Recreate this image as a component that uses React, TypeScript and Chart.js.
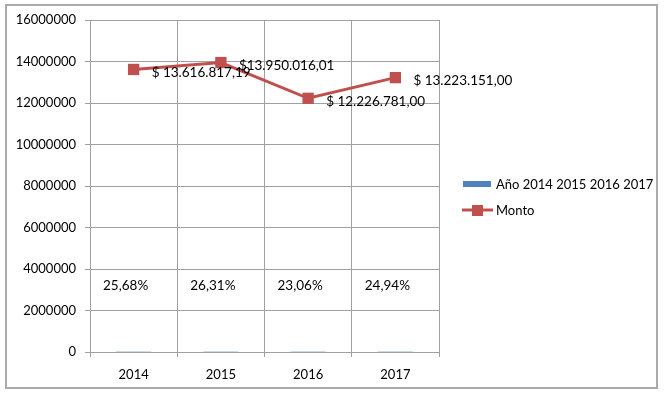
import React, { useEffect, useRef } from "react";
import { Chart, registerables } from "chart.js";

Chart.register(...registerables);

const categories = ["2014", "2015", "2016", "2017"];
const pctValues = [0.2568, 0.2631, 0.2306, 0.2494];
const pctLabels = ["25,68%", "26,31%", "23,06%", "24,94%"];
const montoValues = [13616817.19, 13950016.01, 12226781.0, 13223151.0];
const montoLabels = ["$ 13.616.817,19", "$13.950.016,01", "$ 12.226.781,00", "$ 13.223.151,00"];
const yTicks = [0, 2000000, 4000000, 6000000, 8000000, 10000000, 12000000, 14000000, 16000000];
const barName = "Año 2014 2015 2016 2017";
const lineName = "Monto";

const FONT = "Lato";
const BLUE = "#4F81BD";
const RED = "#C0504D";
const GRID = "#A0A0A0";

const decorPlugin = {
  id: "decor",
  beforeDraw(chart: any) {
    const ctx = chart.ctx;
    ctx.save();
    ctx.fillStyle = "#fff";
    ctx.fillRect(0, 0, chart.width, chart.height);
    ctx.strokeStyle = "#ABABAB";
    ctx.lineWidth = 2;
    ctx.strokeRect(6, 5, 651, 383);
    ctx.restore();
  },
  afterDatasetsDraw(chart: any) {
    const ctx = chart.ctx;
    const y = chart.scales.y;
    ctx.save();
    ctx.font = `13.5px ${FONT}`;
    ctx.fillStyle = "#000";
    ctx.textBaseline = "middle";
    const barMeta = chart.getDatasetMeta(0);
    ctx.textAlign = "center";
    barMeta.data.forEach((el: any, i: number) => {
      ctx.fillText(pctLabels[i], el.x - 8, y.getPixelForValue(3200000));
    });
    const lineMeta = chart.getDatasetMeta(1);
    ctx.textAlign = "left";
    lineMeta.data.forEach((el: any, i: number) => {
      ctx.fillText(montoLabels[i], el.x + 18, el.y + 3);
    });
    ctx.font = `13px ${FONT}`;
    const lx = 462;
    ctx.fillStyle = BLUE;
    ctx.fillRect(lx + 1, 181, 28, 6);
    ctx.fillStyle = "#000";
    ctx.fillText(barName, lx + 34, 185);
    ctx.strokeStyle = RED;
    ctx.lineWidth = 3;
    ctx.beginPath();
    ctx.moveTo(lx, 210);
    ctx.lineTo(lx + 31, 210);
    ctx.stroke();
    ctx.fillStyle = RED;
    ctx.fillRect(lx + 10, 205, 11, 11);
    ctx.fillStyle = "#000";
    ctx.fillText(lineName, lx + 34, 211);
    ctx.restore();
  },
};

export default function App() {
  const ref = useRef<HTMLCanvasElement>(null);
  useEffect(() => {
    const chart = new Chart(ref.current!, {
      type: "bar",
      data: {
        labels: categories,
        datasets: [
          {
            type: "bar",
            label: barName,
            data: pctValues,
            backgroundColor: "#95B3D7",
            borderWidth: 0,
            minBarLength: 1,
            categoryPercentage: 1,
            barPercentage: 0.4,
            order: 2,
          },
          {
            type: "line",
            label: lineName,
            data: montoValues,
            borderColor: RED,
            backgroundColor: RED,
            borderWidth: 3,
            pointStyle: "rect",
            pointRadius: 8,
            pointBorderWidth: 0,
            tension: 0,
            order: 1,
          } as any,
        ],
      },
      options: {
        responsive: false,
        animation: false,
        devicePixelRatio: 1,
        layout: { padding: { left: 0, right: 225, top: 20, bottom: 0 } },
        plugins: { legend: { display: false }, tooltip: { enabled: false } },
        scales: {
          x: {
            offset: true,
            grid: { color: GRID, offset: true, tickLength: 5, drawTicks: true },
            border: { color: GRID },
            ticks: { color: "#000", font: { family: FONT, size: 13 }, padding: 10 },
            afterFit(s: any) {
              s.height = 43;
            },
          },
          y: {
            min: 0,
            max: 16000000,
            afterBuildTicks(s: any) {
              s.ticks = yTicks.map((v) => ({ value: v }));
            },
            grid: { color: GRID, tickLength: 5 },
            border: { color: GRID },
            ticks: {
              color: "#000",
              font: { family: FONT, size: 13 },
              padding: 9,
              callback: (v: any) => String(v),
            },
            afterFit(s: any) {
              s.width = 90;
            },
          },
        },
      },
      plugins: [decorPlugin],
    });
    return () => chart.destroy();
  }, []);
  return (
    <div style={{ position: "fixed", left: 0, top: 0, width: 664, height: 395 }}>
      <canvas ref={ref} width={664} height={395} style={{ width: 664, height: 395 }} />
    </div>
  );
}
